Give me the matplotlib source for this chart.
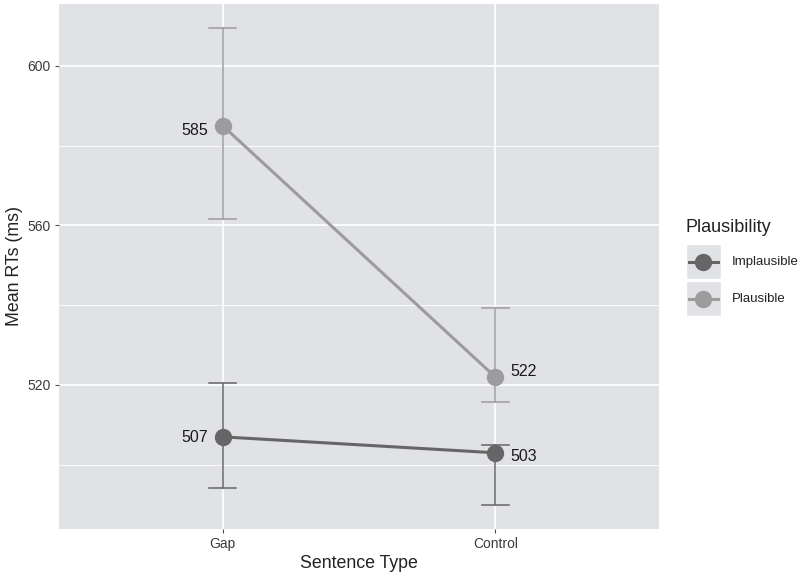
import matplotlib.pyplot as plt
from matplotlib.patches import Rectangle
from matplotlib.lines import Line2D

plt.rcParams["font.family"] = ["Liberation Sans", "DejaVu Sans"]

# ------------------------------------------------------------
# Data: mean RTs with lower/upper error bar limits
# ------------------------------------------------------------
sentence_types = ["Gap", "Control"]
groups = ["Implausible", "Plausible"]
implausible_mean = [507, 503]
implausible_low = [494.1, 489.9]
implausible_high = [520.4, 505.0]
plausible_mean = [585, 522]
plausible_low = [561.5, 515.7]
plausible_high = [609.4, 539.3]

colors = {"Implausible": "#666666", "Plausible": "#9c9c9c"}

W, H = 803, 578
fig = plt.figure(figsize=(W / 100, H / 100), dpi=100)

# panel placement in pixels
px_left, px_right, px_top, px_bottom = 59, 659, 4, 529
ax = fig.add_axes([px_left / W, 1 - px_bottom / H,
                   (px_right - px_left) / W, (px_bottom - px_top) / H])
ax.set_facecolor("#e1e2e5")
for s in ax.spines.values():
    s.set_visible(False)

x = list(range(len(sentence_types)))
ax.set_xlim(-0.6, 1.6)
ax.set_ylim(483.9, 615.5)

# grid lines
for v in [500, 540, 580]:
    ax.axhline(v, color="white", lw=0.6, zorder=0)
for v in [520, 560, 600]:
    ax.axhline(v, color="white", lw=1.2, zorder=0)
for xi in x:
    ax.axvline(xi, color="white", lw=1.2, zorder=0)

series = {
    "Implausible": (implausible_mean, implausible_low, implausible_high),
    "Plausible": (plausible_mean, plausible_low, plausible_high),
}

for g in groups:
    m, lo, hi = series[g]
    c = colors[g]
    for xi, a, b in zip(x, lo, hi):
        ax.plot([xi, xi], [a, b], color=c, lw=1.1, zorder=2)
        for yv in (a, b):
            ax.plot([xi - 0.05, xi + 0.05], [yv, yv], color=c, lw=1.1, zorder=2)
    ax.plot(x, m, color=c, lw=2.2, zorder=3)
    ax.plot(x, m, "o", color=c, ms=12.5, mec="none", zorder=4)

# value labels: (side, horizontal align, vertical nudge)
label_pos = {
    "Implausible": [(-1, "right", -0.2), (1, "left", -1.0)],
    "Plausible": [(-1, "right", -1.2), (1, "left", 1.3)],
}
for g in groups:
    m = series[g][0]
    for xi, v, (side, ha, dy) in zip(x, m, label_pos[g]):
        ax.text(xi + side * 0.055, v + dy, str(v), ha=ha, va="center",
                fontsize=11.5, color="#1a1a1a", zorder=5)

ax.set_xticks(x)
ax.set_xticklabels(sentence_types)
ax.set_yticks([520, 560, 600])
ax.tick_params(axis="both", colors="#4d4d4d", labelcolor="#3a3a3a",
               labelsize=10, length=3, width=0.8, pad=3)
ax.set_xlabel("Sentence Type", fontsize=12.8, color="#222222", labelpad=3)
ax.set_ylabel("Mean RTs (ms)", fontsize=12.8, color="#222222", labelpad=3)

# ------------------------------------------------------------
# Legend drawn in a pixel-coordinate overlay
# ------------------------------------------------------------
lg = fig.add_axes([0, 0, 1, 1])
lg.set_xlim(0, W)
lg.set_ylim(H, 0)
lg.axis("off")
lg.patch.set_alpha(0)

lg.text(686, 228, "Plausibility", fontsize=13, color="#222222",
        ha="left", va="center")
for i, g in enumerate(groups):
    y0 = 244 + i * 37
    lg.add_patch(Rectangle((686, y0), 35, 35, facecolor="#e1e2e5",
                           edgecolor="white", lw=1))
    cy = y0 + 17.5
    lg.add_line(Line2D([689, 718], [cy, cy], color=colors[g], lw=2.2))
    lg.plot([703.5], [cy], "o", color=colors[g], ms=12.5, mec="none")
    lg.text(732, cy, g, fontsize=9.5, color="#222222", ha="left", va="center")

fig.savefig("out.png", dpi=100, facecolor="white")
